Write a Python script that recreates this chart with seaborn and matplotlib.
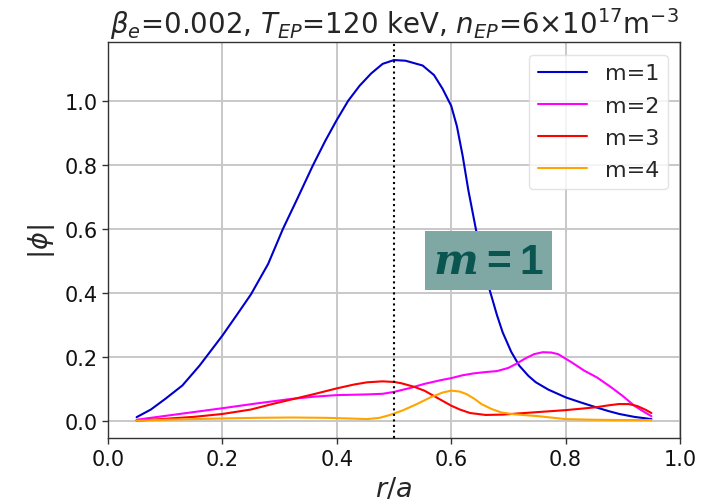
import numpy as np
import pandas as pd
import matplotlib
matplotlib.use("Agg")
import matplotlib.pyplot as plt
import seaborn as sns

# m=1
x1 = [0.05, 0.075, 0.10, 0.13, 0.16, 0.20, 0.225, 0.25, 0.28, 0.306, 0.33, 0.358, 0.38, 0.40, 0.42,
      0.44, 0.46, 0.48, 0.50, 0.52, 0.55, 0.57, 0.585, 0.60, 0.61, 0.62, 0.63, 0.643, 0.655, 0.667,
      0.68, 0.69, 0.705, 0.719, 0.735, 0.748, 0.77, 0.80, 0.825, 0.853, 0.875, 0.894, 0.92, 0.95]
y1 = [0.011, 0.035, 0.068, 0.11, 0.172, 0.266, 0.33, 0.395, 0.49, 0.60, 0.69, 0.797, 0.875, 0.94, 1.0,
      1.047, 1.085, 1.115, 1.127, 1.125, 1.11, 1.08, 1.037, 0.984, 0.92, 0.828, 0.72, 0.60, 0.50, 0.41,
      0.33, 0.276, 0.215, 0.172, 0.14, 0.12, 0.097, 0.073, 0.058, 0.042, 0.03, 0.021, 0.012, 0.005]
# m=2
x2 = [0.05, 0.10, 0.15, 0.20, 0.26, 0.32, 0.36, 0.40, 0.45, 0.48, 0.50, 0.53, 0.553, 0.58, 0.60, 0.62,
      0.64, 0.66, 0.68, 0.70, 0.713, 0.73, 0.745, 0.76, 0.775, 0.787, 0.81, 0.833, 0.855, 0.88, 0.90,
      0.92, 0.935, 0.95]
y2 = [0.003, 0.015, 0.027, 0.039, 0.054, 0.068, 0.075, 0.080, 0.082, 0.084, 0.090, 0.103, 0.115, 0.126,
      0.133, 0.142, 0.148, 0.152, 0.155, 0.165, 0.177, 0.195, 0.208, 0.214, 0.213, 0.208, 0.183, 0.156,
      0.135, 0.104, 0.077, 0.047, 0.030, 0.014]
# m=3
x3 = [0.05, 0.10, 0.15, 0.20, 0.25, 0.287, 0.32, 0.36, 0.40, 0.43, 0.453, 0.48, 0.50, 0.513, 0.535,
      0.553, 0.575, 0.60, 0.615, 0.633, 0.66, 0.69, 0.72, 0.76, 0.80, 0.83, 0.853, 0.875, 0.893, 0.91,
      0.925, 0.94, 0.95]
y3 = [0.0, 0.006, 0.012, 0.021, 0.035, 0.052, 0.066, 0.083, 0.101, 0.113, 0.120, 0.123, 0.121, 0.117,
      0.106, 0.094, 0.072, 0.047, 0.035, 0.024, 0.018, 0.019, 0.023, 0.028, 0.033, 0.038, 0.042, 0.048,
      0.052, 0.052, 0.046, 0.034, 0.024]
# m=4
x4 = [0.05, 0.10, 0.15, 0.20, 0.26, 0.32, 0.38, 0.42, 0.453, 0.475, 0.493, 0.515, 0.54, 0.565, 0.585,
      0.60, 0.615, 0.627, 0.64, 0.653, 0.67, 0.687, 0.71, 0.753, 0.80, 0.85, 0.90, 0.95]
y4 = [0.0, 0.003, 0.005, 0.007, 0.009, 0.010, 0.009, 0.007, 0.005, 0.009, 0.018, 0.032, 0.052, 0.074,
      0.088, 0.094, 0.091, 0.083, 0.069, 0.052, 0.037, 0.026, 0.020, 0.014, 0.005, 0.003, 0.002, 0.002]

labels = ["m=1", "m=2", "m=3", "m=4"]
colors = ["#0000cc", "#ff00ff", "#ff0000", "#ffa500"]
xticks = [0.0, 0.2, 0.4, 0.6, 0.8, 1.0]
yticks = [0.0, 0.2, 0.4, 0.6, 0.8, 1.0]

frames = []
for xs, ys, lab in zip([x1, x2, x3, x4], [y1, y2, y3, y4], labels):
    frames.append(pd.DataFrame({"x": xs, "y": ys, "mode": lab}))
df = pd.concat(frames, ignore_index=True)

sns.set_theme(style="ticks")
plt.rcParams["font.family"] = ["DejaVu Sans"]
plt.rcParams["mathtext.fontset"] = "custom"
plt.rcParams["mathtext.bf"] = "DejaVu Serif:bold:italic"
plt.rcParams["mathtext.sf"] = "Liberation Sans:bold"

fig = plt.figure(figsize=(7.19, 5.02), dpi=100)
ax = fig.add_axes([108/719, 1 - 439.3/502, 572/719, 396/502])

sns.lineplot(data=df, x="x", y="y", hue="mode", palette=dict(zip(labels, colors)),
             ax=ax, linewidth=1.5, estimator=None, sort=False)
ax.axvline(0.5, color="black", linestyle=":", linewidth=1.5)

ax.set_xlim(0, 1)
ax.set_ylim(-0.055, 1.1825)
ax.set_xticks(xticks)
ax.set_yticks(yticks)
ax.set_xticklabels([f"{v:.1f}" for v in xticks])
ax.set_yticklabels([f"{v:.1f}" for v in yticks])
ax.tick_params(labelsize=15, length=4, width=1, color="#333333", labelcolor="#111111")
ax.grid(True, color="#c8c8c8", linewidth=1.4)
for s in ax.spines.values():
    s.set_color("#333333")
    s.set_linewidth(1.0)

ax.set_xlabel(r"$r/a$", fontsize=19.5, labelpad=5)
ax.set_ylabel(r"$|\phi|$", fontsize=19.5, labelpad=5)
ax.set_title(r"$\beta_e$=0.002, $T_{EP}$=120 keV, $n_{EP}$=6$\times10^{17}$m$^{-3}$",
             fontsize=19.9, pad=7)

leg = ax.legend(loc="upper right", fontsize=16, framealpha=0.8, handlelength=2.2,
                labelspacing=0.55, borderaxespad=0.55)
leg.get_frame().set_edgecolor("#dddddd")
for line in leg.get_lines():
    line.set_linewidth(1.5)

ax.text(0.665, 0.50, r"$\mathbf{m}\mathsf{=1}$", fontsize=30.5, color="#0a5550",
        ha="center", va="center",
        bbox=dict(boxstyle="square,pad=0.2", facecolor="#7fa8a5", edgecolor="none"))

fig.savefig("out.png", dpi=100)
